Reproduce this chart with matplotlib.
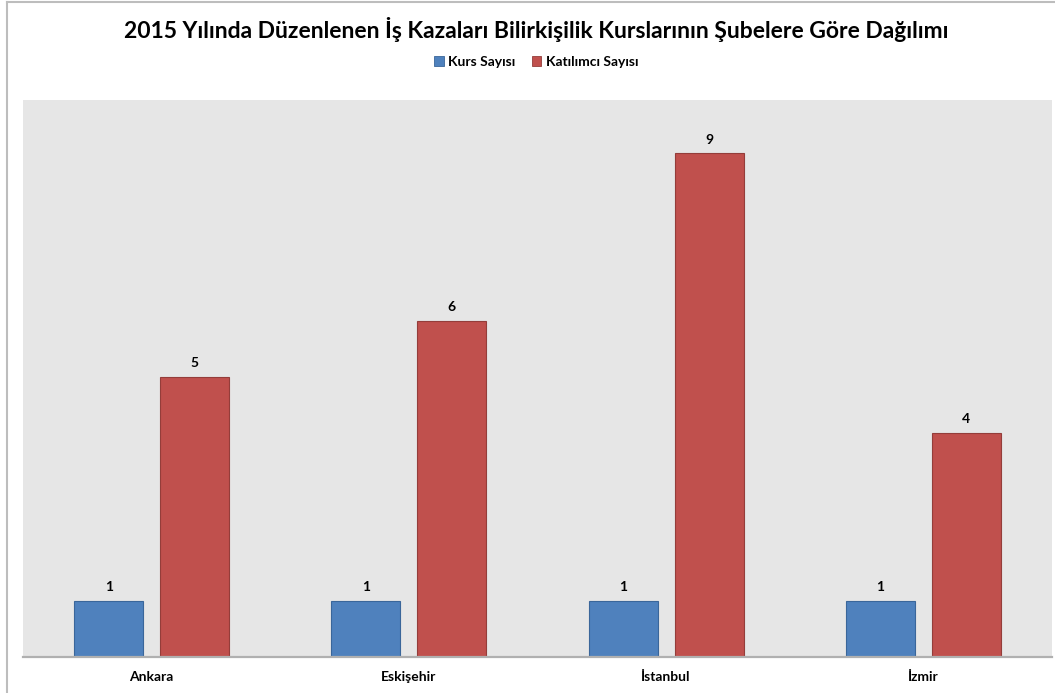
import matplotlib
matplotlib.use("Agg")
import matplotlib.pyplot as plt
import numpy as np
from matplotlib.lines import Line2D
from matplotlib.patches import Patch

plt.rcParams["font.family"] = ["Lato", "DejaVu Sans"]

sehirler = ["Ankara", "Eskişehir", "İstanbul", "İzmir"]
kurs_sayisi = [1, 1, 1, 1]
katilimci_sayisi = [5, 6, 9, 4]

MAVI, MAVI_KENAR = "#4F81BD", "#3A669A"
KIRMIZI, KIRMIZI_KENAR = "#C0504D", "#943D3A"

W, H = 1055, 693
fig = plt.figure(figsize=(W / 100, H / 100), dpi=100)
ax = fig.add_axes([23 / W, 1 - 657 / H, (1052 - 23) / W, (657 - 100) / H])
ax.set_facecolor("#E6E6E6")

x = np.arange(len(sehirler))
bw = 0.268
off = 0.167
b1 = ax.bar(x - off, kurs_sayisi, bw, color=MAVI, edgecolor=MAVI_KENAR, linewidth=0.8)
b2 = ax.bar(x + off, katilimci_sayisi, bw, color=KIRMIZI, edgecolor=KIRMIZI_KENAR, linewidth=0.8)

for bars in (b1, b2):
    for b in bars:
        ax.annotate(f"{b.get_height():g}", (b.get_x() + b.get_width() / 2, b.get_height()),
                    xytext=(0, 5.5), textcoords="offset points", ha="center", va="bottom",
                    fontsize=10, fontweight="bold", color="black")

ax.set_xlim(-0.5, len(sehirler) - 0.5)
ax.set_ylim(0, 9.95)
ax.set_yticks([])
ax.set_xticks(x)
ax.set_xticklabels(sehirler, fontsize=10, fontweight="bold")
ax.tick_params(axis="x", length=0, pad=10)
for s in ("top", "right", "left"):
    ax.spines[s].set_visible(False)
ax.spines["bottom"].set_color("#B0B0B0")
ax.spines["bottom"].set_linewidth(1.6)

fig.text(0.508, 1 - 30 / H, "2015 Yılında Düzenlenen İş Kazaları Bilirkişilik Kurslarının Şubelere Göre Dağılımı",
         ha="center", va="center", fontsize=16.5, fontweight="bold")

handles = [Patch(facecolor=MAVI, edgecolor=MAVI_KENAR, linewidth=0.6, label="Kurs Sayısı"),
           Patch(facecolor=KIRMIZI, edgecolor=KIRMIZI_KENAR, linewidth=0.6, label="Katılımcı Sayısı")]
leg = fig.legend(handles=handles, loc="center", bbox_to_anchor=(536 / W, 1 - 62 / H), ncol=2,
                 frameon=False, handlelength=0.7, handleheight=0.7, handletextpad=0.3,
                 columnspacing=1.2, prop={"size": 10, "weight": "bold"})

# dış çerçeve
kx, ky = 7 / W, 1 - 2 / H
fig.add_artist(Line2D([kx, kx], [0, ky], color="#BDBDBD", lw=1.5, transform=fig.transFigure))
fig.add_artist(Line2D([kx, 1], [ky, ky], color="#BDBDBD", lw=1.5, transform=fig.transFigure))

fig.savefig("out.png", dpi=100)
